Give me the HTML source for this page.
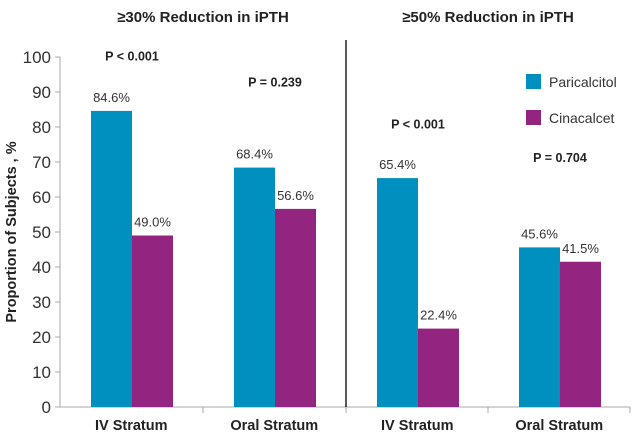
<!DOCTYPE html>
<html><head><meta charset="utf-8"><style>
body{margin:0;background:#fff;font-family:"Liberation Sans",sans-serif}
svg text{font-family:"Liberation Sans",sans-serif}
</style></head><body>
<svg id="c" width="633" height="437"></svg>
<script>
const categories=["IV Stratum","Oral Stratum","IV Stratum","Oral Stratum"];
const paricalcitol=[84.6,68.4,65.4,45.6];
const cinacalcet=[49.0,56.6,22.4,41.5];
const pValues=["P < 0.001","P = 0.239","P < 0.001","P = 0.704"];
const pLevels=[100.5,93,81,71.5];
const yTicks=[0,10,20,30,40,50,60,70,80,90,100];
const NS="http://www.w3.org/2000/svg";
const svg=document.getElementById('c');
function el(t,a,txt){const e=document.createElementNS(NS,t);for(const k in a)e.setAttribute(k,a[k]);if(txt!==undefined)e.textContent=txt;svg.appendChild(e);return e;}
const y0=407,pxu=3.5;
const y=v=>y0-v*pxu;
const catStart=[60,203,346,488],catW=142.5,barW=41,off=31;
let a=el('line',{x1:60,y1:y(100),x2:60,y2:y0,stroke:'#aaa','stroke-width':1});


a=el('line',{x1:60,y1:y0,x2:630,y2:y0,stroke:'#aaa','stroke-width':1});


yTicks.forEach(t=>{
  el('line',{x1:55,x2:60,y1:y(t),y2:y(t),stroke:'#aaa'});
  const tx=el('text',{x:51,y:y(t)+6,'text-anchor':'end','font-size':17,fill:'#333'},t);
  
  
});
[203,346,488,630].forEach(x=>el('line',{x1:x,x2:x,y1:y0,y2:y0+6,stroke:'#aaa'}));
let d=el('line',{x1:346,y1:40,x2:346,y2:y0,stroke:'#000','stroke-width':1.3});


categories.forEach((c,i)=>{
  const x0=catStart[i]+off;
  let b=el('rect',{x:x0,y:y(paricalcitol[i]),width:barW,height:paricalcitol[i]*pxu,fill:'#0090bf'});
  
  
  b=el('rect',{x:x0+barW,y:y(cinacalcet[i]),width:barW,height:cinacalcet[i]*pxu,fill:'#93247f'});
  
  
  let t=el('text',{x:x0+barW/2,y:y(paricalcitol[i])-9,'text-anchor':'middle','font-size':13,fill:'#333'},paricalcitol[i].toFixed(1)+'%');
  
  
  t=el('text',{x:x0+barW*1.5,y:y(cinacalcet[i])-9,'text-anchor':'middle','font-size':13,fill:'#333'},cinacalcet[i].toFixed(1)+'%');
  
  
  t=el('text',{x:x0+barW,y:y(pLevels[i])+5,'text-anchor':'middle','font-size':12.5,'font-weight':'bold',fill:'#222'},pValues[i]);
  
  
  t=el('text',{x:catStart[i]+catW/2,y:430,'text-anchor':'middle','font-size':14.5,'font-weight':'bold',fill:'#222'},c);
  
  
});
let t=el('text',{x:203,y:22,'text-anchor':'middle','font-size':15,'font-weight':'bold',fill:'#222'},'≥30% Reduction in iPTH');


t=el('text',{x:488,y:22,'text-anchor':'middle','font-size':15,'font-weight':'bold',fill:'#222'},'≥50% Reduction in iPTH');


t=el('text',{x:0,y:0,transform:'translate(16,232) rotate(-90)','text-anchor':'middle','font-size':14.5,'font-weight':'bold',fill:'#222'},'Proportion of Subjects , %');


[['Paricalcitol','#0090bf',82],['Cinacalcet','#93247f',118]].forEach(([n,c,yy])=>{
  const r=el('rect',{x:526,y:yy-8,width:15,height:15,fill:c});
  
  
  const l=el('text',{x:549,y:yy+5,'font-size':14,fill:'#333'},n);
  
  
});
</script>
</body></html>
